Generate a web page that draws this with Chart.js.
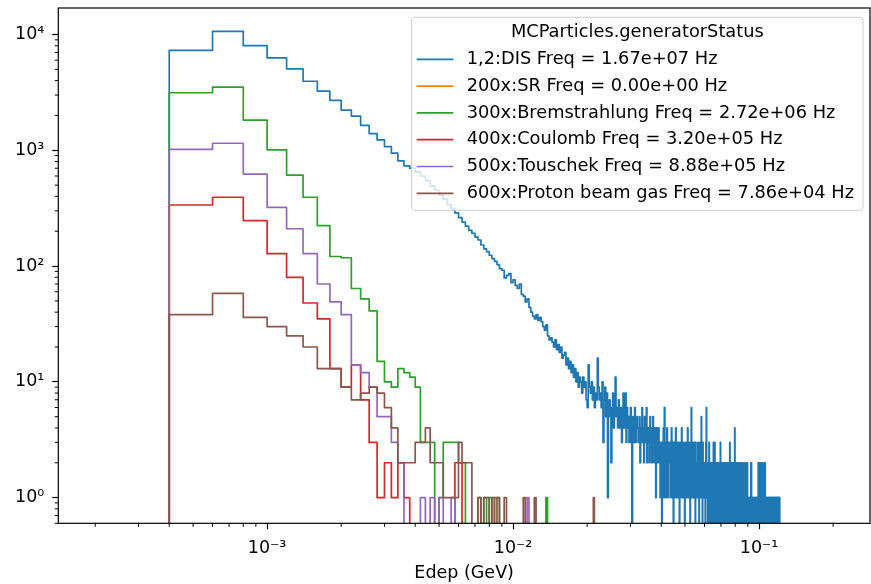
<!DOCTYPE html>
<html lang="en">
  <head>
    <meta charset="UTF-8" />
    <title>Edep by generator status</title>
    <script src="https://cdn.jsdelivr.net/npm/chart.js"></script>
    <style>
      body { margin: 0; background: #fff; }
      .chart-container { position: relative; width: 871px; height: 584px; }
    </style>
  </head>
  <body>
    <div class="chart-container"><canvas id="edepChart"></canvas></div>
    <script>
      // histogram binning: 1000 linear bins of 2e-4 GeV from 0 to 0.2 GeV
      const BIN_WIDTH = 2e-4;
      const FIRST_BIN = 2; // first filled bin starts at 4e-4 GeV

      // counts per bin, starting at FIRST_BIN
      const DIS_COUNTS = [
        7300, 10630, 8010, 6280, 5050, 3950, 3240, 2700, 2225, 1977,
        1643, 1394, 1229, 1078, 944, 811, 734, 700, 650, 600,
        545, 490, 452, 410, 378, 340, 312, 288, 262, 240,
        221, 203, 192, 178, 168, 152, 141, 133, 124, 116,
        110, 103, 95, 92, 79, 83, 86, 72, 76, 68,
        64, 70, 57, 55, 49, 52, 44, 40, 37, 35,
        38, 34, 36, 33, 30, 28, 31, 25, 23, 24,
        22, 20, 23, 19, 21, 18, 20, 16, 17, 18,
        14, 16, 13, 15, 12, 14, 11, 13, 10, 12,
        9, 11, 10, 8, 11, 9, 10, 7, 6, 14,
        9, 8, 10, 7, 9, 6, 8, 7, 16, 9,
        7, 8, 6, 10, 3, 7, 9, 5, 8, 1,
        6, 7, 5, 2, 6, 8, 4, 6, 11, 5,
        6, 4, 7, 5, 4, 6, 3, 5, 8, 4,
        5, 8, 3, 6, 4, 5, 3, 4, 6, 3,
        0, 5, 4, 3, 6, 4, 3, 5, 4,
        4, 3, 5, 2, 4, 3, 6, 3, 4, 2, 5, 3, 4, 6, 2, 3, 4, 3, 2, 5,
        3, 4, 2, 3, 5, 3, 2, 4, 3, 1, 4, 3, 2, 3, 4, 2, 3, 1, 3, 2,
        0, 3, 2, 4, 1, 6, 2, 3, 1, 2, 4, 2, 1, 3, 2, 2, 3, 1, 2, 4,
        2, 1, 3, 0, 2, 3, 1, 2, 4, 2, 1, 3, 2, 1, 2, 3, 0, 2, 1, 3,
        2, 4, 1, 2, 3, 1, 2, 2, 0, 3, 1, 2, 3, 1, 2, 4, 1, 2, 2, 1,
        3, 0, 2, 1, 6, 2, 1, 3, 2, 1, 2, 3, 1, 2, 0, 3, 1, 2, 2, 1,
        2, 3, 1, 2, 0, 1, 3, 2, 1, 2, 5, 1, 2, 0, 3, 1, 2, 1, 2, 1,
        2, 0, 1, 3, 6, 1, 2, 1, 0, 2, 1, 2, 3, 0, 1, 2, 1, 2, 0, 1,
        2, 1, 0, 2, 1, 3, 1, 2, 0, 3, 1, 2, 1, 0, 2, 1, 2, 0, 1, 2,
        1, 0, 2, 1, 2, 1, 0, 3, 1, 2, 1, 0, 2, 1, 1, 2, 0, 1, 2, 1,
        0, 2, 1, 1, 2, 0, 1, 2, 1, 0, 2, 1, 2, 1, 0, 1, 2, 1, 0, 3,
        1, 2, 0, 1, 1, 2, 0, 1, 2, 1, 0, 2, 1, 1, 0, 2, 1, 4, 1, 0,
        1, 2, 1, 0, 1, 2, 1, 0, 1, 1, 2, 0, 1, 2, 1, 0, 1, 1, 2, 0,
        1, 1, 0, 2, 1, 0, 1, 1, 2, 0, 1, 1, 0, 1, 2, 1, 0, 1, 1, 0,
        1, 1, 2, 0, 1, 0, 1, 2, 1, 0, 1, 1, 0, 1, 1, 0, 1, 0, 1, 1,
        0, 1, 2, 1, 2, 0, 1, 1, 0, 1, 1, 0, 1, 1, 1, 0, 1, 0, 1, 1,
        0, 1, 1, 0, 1, 1, 0, 1, 0, 1, 1, 1, 0, 1, 0, 2, 1, 0, 1, 2,
        1, 0, 1, 1, 0, 2, 1, 1, 0, 1, 2, 0, 1, 1, 0, 1, 2, 1, 0, 1,
        1, 0, 1, 2, 0, 1, 1, 0, 2, 1, 0, 1, 1, 0, 1, 1, 0, 1, 0, 1,
        1, 0, 1, 1, 0, 1, 0, 1, 1, 1, 0, 1, 0, 1, 1, 0, 1, 1, 0, 1,
        0, 1, 1, 0, 1, 0, 1, 1, 0, 1, 0, 0, 1, 1, 0, 1, 0, 1, 1, 0,
        1, 0, 1, 1, 0, 1, 0, 1, 0, 1, 1, 0, 1, 0, 0, 1, 1, 0, 1, 0,
        1, 0, 0, 1, 0, 1,
      ];
      const SR_COUNTS = [];
      const BREMS_COUNTS = [
        3140, 3510, 1824, 1010, 611, 393, 224, 121, 118, 64,
        52, 41, 15, 10, 9, 13, 12, 11, 9, 3,
        3, 3, 0, 1, 3, 3, 3, 3, 2, 2,
        0, 0, 0, 0, 1, 0, 1, 0, 1, 0,
        1, 1, 0, 0, 0, 0, 0, 0, 0, 0,
        0, 0, 0, 0, 0, 0, 0, 0, 0, 0,
        0, 0, 0, 0, 0, 0, 1,
      ];
      const COULOMB_COUNTS = [
        337, 393, 247, 128, 80, 48, 35, 13, 9, 14,
        7, 3, 1, 2, 1, 2, 1, 0, 0, 0,
        0, 0, 0, 0, 0, 0, 0, 2, 2,
      ];
      const TOUSCHEK_COUNTS = [
        1020, 1151, 623, 322, 210, 128, 70, 49, 38, 14,
        12, 9, 5, 5, 3, 2, 0, 0, 0, 1,
        0, 1, 0, 1, 0, 0, 1, 0, 0, 0,
        0, 0, 0, 0, 0, 0, 0, 0, 0, 0,
        0, 0, 0, 0, 0, 0, 0, 0, 0, 0,
        0, 0, 0, 0, 0, 1,
      ];
      const PROTON_COUNTS = [
        38, 58, 36, 30, 25, 20, 13, 13, 9, 7,
        8, 9, 8, 6, 4, 2, 2, 2, 3, 3,
        4, 2, 2, 2, 1, 1, 1, 1, 3, 2,
        2, 2, 0, 0, 1, 0, 1, 1, 0, 1,
        0, 1, 0, 0, 1, 0, 0, 0, 0, 0,
        0, 0, 0, 1, 0, 0, 0, 0, 0, 1,
        0, 0, 0, 0, 0, 0, 0, 0, 0, 0,
        0, 0, 0, 0, 0, 0, 0, 0, 0, 0,
        0, 0, 0, 0, 0, 0, 0, 0, 0, 0,
        0, 0, 0, 0, 0, 0, 0, 0, 0, 0,
        0, 0, 0, 0, 1,
      ];

      const SERIES_LABELS = [
        "1,2:DIS Freq = 1.67e+07 Hz",
        "200x:SR Freq = 0.00e+00 Hz",
        "300x:Bremstrahlung Freq = 2.72e+06 Hz",
        "400x:Coulomb Freq = 3.20e+05 Hz",
        "500x:Touschek Freq = 8.88e+05 Hz",
        "600x:Proton beam gas Freq = 7.86e+04 Hz",
      ];
      const SERIES_COUNTS = [DIS_COUNTS, SR_COUNTS, BREMS_COUNTS, COULOMB_COUNTS, TOUSCHEK_COUNTS, PROTON_COUNTS];
      const COLORS = ["#1f77b4", "#ff7f0e", "#2ca02c", "#d62728", "#9467bd", "#8c564b"];
      const LEGEND_TITLE = "MCParticles.generatorStatus";

      // axes
      const X_MIN = 1.416e-4, X_MAX = 0.2825;
      const Y_MIN = 0.63, Y_MAX = 16950;
      const X_TICKS = [1e-3, 1e-2, 1e-1];
      const X_TICK_LABELS = ["10\u207B\u00B3", "10\u207B\u00B2", "10\u207B\u00B9"];
      const Y_TICKS = [1, 10, 100, 1000, 10000];
      const Y_TICK_LABELS = ["10\u2070", "10\u00B9", "10\u00B2", "10\u00B3", "10\u2074"];
      const MINOR_STEPS = [2, 3, 4, 5, 6, 7, 8, 9];
      const X_MINOR = [];
      [1e-4, 1e-3, 1e-2, 1e-1].forEach((d) => MINOR_STEPS.forEach((m) => X_MINOR.push(m * d)));
      const Y_MINOR = [];
      [0.1, 1, 10, 100, 1000, 10000].forEach((d) => MINOR_STEPS.forEach((m) => Y_MINOR.push(m * d)));

      const FONT = '"DejaVu Sans", sans-serif';
      const FONT_SIZE = 17.5;
      const LEGEND_FONT_SIZE = 17.8;
      const FLOOR = 0.01; // empty bins sit below the axis, like matplotlib's log clip

      // step outline of a histogram: rise at the first edge, drop after the last
      function histPoints(counts) {
        const pts = [{ x: FIRST_BIN * BIN_WIDTH, y: FLOOR }];
        counts.forEach((c, i) => {
          pts.push({ x: (FIRST_BIN + i) * BIN_WIDTH, y: c > 0 ? c : FLOOR });
        });
        pts.push({ x: (FIRST_BIN + counts.length) * BIN_WIDTH, y: FLOOR });
        return pts;
      }

      const frameAndLegend = {
        id: "frameAndLegend",
        afterDatasetsDraw(chart) {
          const { ctx, chartArea: a } = chart;
          const xs = chart.scales.x;
          const ys = chart.scales.y;
          ctx.save();

          // minor ticks
          ctx.strokeStyle = "#000";
          ctx.lineWidth = 1;
          ctx.beginPath();
          X_MINOR.forEach((v) => {
            const px = xs.getPixelForValue(v);
            if (px >= a.left && px <= a.right) {
              ctx.moveTo(px, a.bottom);
              ctx.lineTo(px, a.bottom + 3.5);
            }
          });
          Y_MINOR.forEach((v) => {
            const py = ys.getPixelForValue(v);
            if (py >= a.top && py <= a.bottom) {
              ctx.moveTo(a.left, py);
              ctx.lineTo(a.left - 3.5, py);
            }
          });
          ctx.stroke();

          // spines
          ctx.lineWidth = 1.2;
          ctx.strokeRect(a.left, a.top, a.right - a.left, a.bottom - a.top);

          // legend box, upper right
          ctx.font = LEGEND_FONT_SIZE + "px " + FONT;
          const labels = chart.data.datasets.map((d) => d.label);
          const textW = Math.max(...labels.map((l) => ctx.measureText(l).width));
          const w = 55 + textW + 9;
          const h = 193;
          const right = a.right - 7;
          const top = a.top + 9.3;
          const left = right - w;
          const r = 3;
          ctx.beginPath();
          ctx.moveTo(left + r, top);
          ctx.arcTo(right, top, right, top + h, r);
          ctx.arcTo(right, top + h, left, top + h, r);
          ctx.arcTo(left, top + h, left, top, r);
          ctx.arcTo(left, top, right, top, r);
          ctx.closePath();
          ctx.fillStyle = "rgba(255,255,255,0.8)";
          ctx.fill();
          ctx.strokeStyle = "#cccccc";
          ctx.lineWidth = 1;
          ctx.stroke();

          ctx.fillStyle = "#000";
          ctx.textBaseline = "middle";
          ctx.textAlign = "center";
          ctx.fillText(LEGEND_TITLE, left + w / 2, top + 15.4);
          ctx.textAlign = "left";
          chart.data.datasets.forEach((d, i) => {
            const cy = top + 42 + i * 26.8;
            ctx.strokeStyle = d.borderColor;
            ctx.lineWidth = 1.7;
            ctx.beginPath();
            ctx.moveTo(left + 5, cy);
            ctx.lineTo(left + 41.7, cy);
            ctx.stroke();
            ctx.fillText(d.label, left + 55, cy);
          });
          ctx.restore();
        },
      };

      const ctx = document.getElementById("edepChart").getContext("2d");
      const edepChart = new Chart(ctx, {
        type: "line",
        data: {
          datasets: SERIES_COUNTS.map((counts, i) => ({
            label: SERIES_LABELS[i],
            data: histPoints(counts),
            borderColor: COLORS[i],
            backgroundColor: COLORS[i],
            borderWidth: 1.7,
            borderJoinStyle: "round",
            stepped: true,
            pointRadius: 0,
            fill: false,
            order: SERIES_COUNTS.length - i,
          })),
        },
        options: {
          responsive: true,
          maintainAspectRatio: false,
          animation: false,
          devicePixelRatio: 1,
          layout: { padding: { left: 0, top: 8, right: 1, bottom: 0 } },
          plugins: {
            legend: { display: false },
            tooltip: { enabled: false },
          },
          scales: {
            x: {
              type: "logarithmic",
              min: X_MIN,
              max: X_MAX,
              afterBuildTicks: (scale) => {
                scale.ticks = X_TICKS.map((v) => ({ value: v }));
              },
              afterFit: (scale) => {
                scale.height = 60.7;
                scale.paddingLeft = 0;
                scale.paddingRight = 0;
              },
              ticks: {
                autoSkip: false,
                maxRotation: 0,
                padding: 9,
                color: "#000",
                font: { family: FONT, size: FONT_SIZE },
                callback: (value, index) => X_TICK_LABELS[index],
              },
              grid: {
                drawOnChartArea: false,
                tickLength: 6,
                tickWidth: 1.2,
                tickColor: "#000",
              },
              border: { display: false },
              title: {
                display: true,
                text: "Edep (GeV)",
                color: "#000",
                font: { family: FONT, size: FONT_SIZE },
                padding: { top: 0, bottom: 0 },
              },
            },
            y: {
              type: "logarithmic",
              min: Y_MIN,
              max: Y_MAX,
              afterBuildTicks: (scale) => {
                scale.ticks = Y_TICKS.map((v) => ({ value: v }));
              },
              afterFit: (scale) => {
                scale.width = 58.3;
                scale.paddingTop = 0;
                scale.paddingBottom = 0;
              },
              ticks: {
                autoSkip: false,
                padding: 8,
                color: "#000",
                font: { family: FONT, size: FONT_SIZE },
                callback: (value, index) => Y_TICK_LABELS[index],
              },
              grid: {
                drawOnChartArea: false,
                tickLength: 6,
                tickWidth: 1.2,
                tickColor: "#000",
              },
              border: { display: false },
            },
          },
        },
        plugins: [frameAndLegend],
      });
    </script>
  </body>
</html>
